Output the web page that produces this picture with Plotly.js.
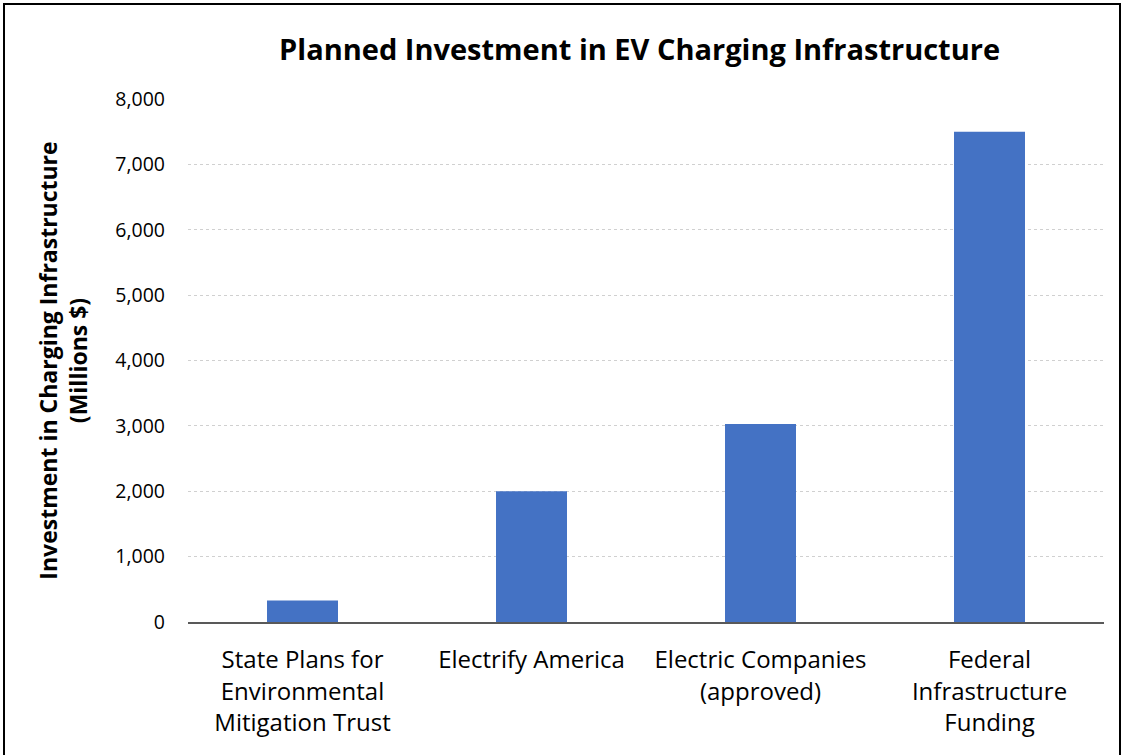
<!DOCTYPE html>
<html>
<head>
<meta charset="utf-8">
<script src="https://cdn.plot.ly/plotly-3.0.1.min.js"></script>
<style>
  html, body { margin: 0; padding: 0; background: #fff; overflow: hidden; }
  #frame { position: absolute; left: 3px; top: 3px; width: 1118px; height: 800px; border: 2px solid #000; box-sizing: border-box; pointer-events: none; z-index: 10; }
  #chart { position: absolute; left: 0; top: 0; width: 1124px; height: 755px; }
</style>
</head>
<body>
<div id="chart"></div>
<div id="frame"></div>
<script>
const categories = [
  "State Plans for<br>Environmental<br>Mitigation Trust",
  "Electrify America",
  "Electric Companies<br>(approved)",
  "Federal<br>Infrastructure<br>Funding"
];
const investment = [330, 2000, 3030, 7500];
const yTicks = [0, 1000, 2000, 3000, 4000, 5000, 6000, 7000, 8000];
const yTickLabels = ["0", "1,000", "2,000", "3,000", "4,000", "5,000", "6,000", "7,000", "8,000"];

const fontFam = "'Open Sans', 'Noto Sans', sans-serif";

const data = [{
  type: "bar",
  x: categories,
  y: investment,
  marker: { color: "#4472C4", line: { width: 0 } },
  hoverinfo: "x+y"
}];

const layout = {
  width: 1124,
  height: 755,
  margin: { l: 188, r: 20, t: 99, b: 133 },
  paper_bgcolor: "#ffffff",
  plot_bgcolor: "#ffffff",
  font: { family: fontFam, color: "#000000", size: 18 },
  bargap: 0.69,
  showlegend: false,
  title: {
    text: "<b>Planned Investment in EV Charging Infrastructure</b>",
    font: { family: fontFam, size: 29, color: "#000" },
    x: 0.493, xref: "paper", xanchor: "center",
    y: 47, yref: "container", yanchor: "middle"
  },
  xaxis: {
    type: "category",
    showgrid: false,
    showline: true,
    linecolor: "#595959",
    linewidth: 1.5,
    ticks: "",
    ticklabelstandoff: 16,
    tickfont: { family: fontFam, size: 24, color: "#000" },
    fixedrange: true
  },
  yaxis: {
    range: [0, 8000],
    tickvals: yTicks,
    ticktext: yTickLabels,
    showgrid: true,
    gridcolor: "#d0d0d0",
    gridwidth: 1,
    griddash: "dot",
    zeroline: false,
    showline: false,
    ticks: "",
    ticklabelstandoff: 22,
    tickfont: { family: fontFam, size: 19.5, color: "#000" },
    title: {
      text: "<b>Investment in Charging Infrastructure<br>(Millions $)</b>",
      font: { family: fontFam, size: 23, color: "#000" },
      standoff: 21
    },
    fixedrange: true
  }
};

Plotly.newPlot("chart", data, layout, { displayModeBar: false, staticPlot: true });
</script>
</body>
</html>
